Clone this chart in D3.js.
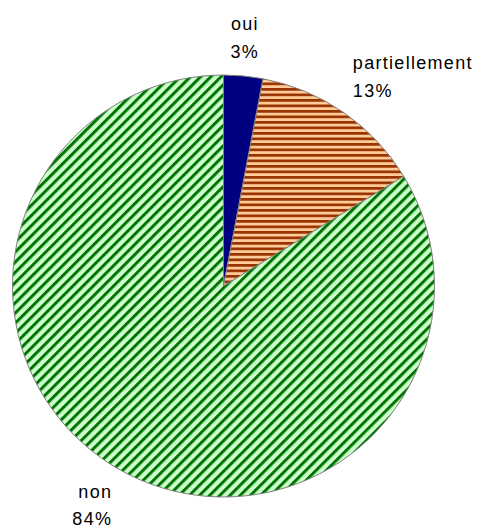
<!DOCTYPE html>
<html>
<head>
<meta charset="utf-8">
<script src="https://cdn.jsdelivr.net/npm/d3@7"></script>
<style>
  body { margin: 0; background: #fff; }
  svg { display: block; }
</style>
</head>
<body>
<svg id="pie" width="478" height="528"></svg>
<script>
// data
let categories = ["oui", "partiellement", "non"]
let values = [3.0, 13.3, 83.7]
let fills = ["#000080", "url(#stripes-orange)", "url(#stripes-green)"]

let width = 478
let height = 528
let cx = 223.5, cy = 286, radius = 211

let svg = d3.select("#pie")

// hatch patterns like the old excel fills
let defs = svg.append("defs")

let orange = defs.append("pattern")
    .attr("id", "stripes-orange")
    .attr("patternUnits", "userSpaceOnUse")
    .attr("width", 10)
    .attr("height", 5.5)
orange.append("rect").attr("width", 10).attr("height", 5.5).attr("fill", "#ffcc99")
orange.append("rect").attr("y", 0).attr("width", 10).attr("height", 2.7).attr("fill", "#993300")

let green = defs.append("pattern")
    .attr("id", "stripes-green")
    .attr("patternUnits", "userSpaceOnUse")
    .attr("width", 10)
    .attr("height", 7.2)
    .attr("patternTransform", "rotate(-45)")
green.append("rect").attr("width", 10).attr("height", 7.2).attr("fill", "#ccffcc")
green.append("rect").attr("y", 0).attr("width", 10).attr("height", 3).attr("fill", "#007300")

let total = d3.sum(values)
let data = categories.map((c, i) => ({ name: c, value: values[i], fill: fills[i] }))

let pie = d3.pie()
    .sort(null)
    .value(d => d.value)

let arc = d3.arc()
    .innerRadius(0)
    .outerRadius(radius)

let arcs = pie(data)

let g = svg.append("g")
    .attr("transform", `translate(${cx},${cy})`)

g.selectAll("path.slice")
    .data(arcs)
    .join("path")
    .attr("class", "slice")
    .attr("d", arc)
    .attr("fill", d => d.data.fill)
    .attr("stroke", "#808080")
    .attr("stroke-width", 1)

// labels: nearest corner of the text block sits on a circle outside the pie
let labelR = 227
let lineGap = 28

let labels = g.selectAll("text.label")
    .data(arcs)
    .join("text")
    .attr("class", "label")
    .style("font-family", "'Liberation Sans', Arial, sans-serif")
    .style("font-size", "18px")
    .style("letter-spacing", "1.3px")
    .attr("fill", "#000")
    .each(function (d) {
        let a = (d.startAngle + d.endAngle) / 2
        let px = labelR * Math.sin(a)
        let py = -labelR * Math.cos(a)
        let anchor = Math.abs(Math.sin(a)) < 0.2 ? "middle" : (Math.sin(a) > 0 ? "start" : "end")
        let b1, b2
        if (Math.cos(a) > 0) {
            b2 = py - 2
            b1 = b2 - lineGap
        } else {
            b1 = py + 14
            b2 = b1 + lineGap - 1
        }
        let t = d3.select(this).attr("text-anchor", anchor)
        t.append("tspan").attr("x", px).attr("y", b1).text(d.data.name)
        t.append("tspan").attr("x", px).attr("y", b2)
            .text(Math.round(d.data.value / total * 100) + "%")
    })
</script>
</body>
</html>
